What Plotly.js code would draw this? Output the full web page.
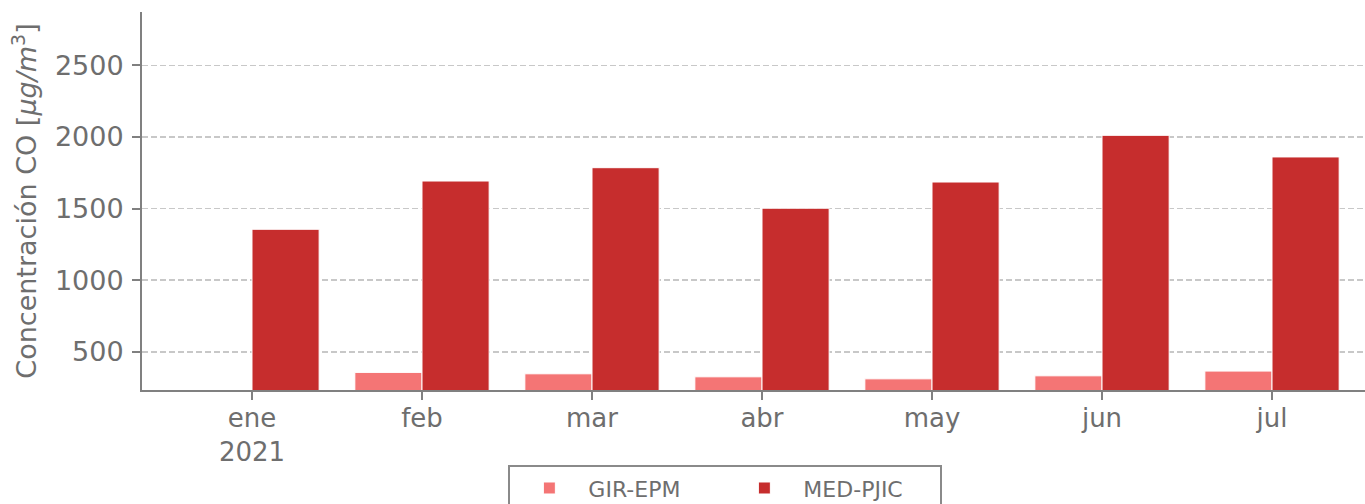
<!DOCTYPE html>
<html>
<head>
<meta charset="utf-8">
<script src="https://cdn.plot.ly/plotly-3.0.1.min.js"></script>
<style>html,body{margin:0;padding:0;background:#fff;}#chart{width:1365px;height:504px;}</style>
</head>
<body>
<div id="chart"></div>
<script>
const months = ["ene", "feb", "mar", "abr", "may", "jun", "jul"];
const tickLabels = ["ene<br>2021", "feb", "mar", "abr", "may", "jun", "jul"];
const girEpm = [null, 356, 346, 325, 311, 332, 365];
const medPjic = [1355, 1692, 1785, 1502, 1685, 2011, 1860];
const seriesNames = ["GIR-EPM", "MED-PJIC"];

const grey = "#6e6e6e";
const traces = [
  {type: "bar", x: months, y: girEpm, name: seriesNames[0],
   marker: {color: "#f47575", line: {color: "#ffffff", width: 1}}},
  {type: "bar", x: months, y: medPjic, name: seriesNames[1],
   marker: {color: "#c62d2d", line: {color: "#ffffff", width: 1}}}
];

const layout = {
  width: 1365, height: 504,
  margin: {l: 142, r: 0, t: 12, b: 114},
  paper_bgcolor: "#ffffff", plot_bgcolor: "#ffffff",
  font: {family: "DejaVu Sans", color: grey, size: 27},
  barmode: "group", bargap: 0.21, bargroupgap: 0,
  showlegend: true,
  legend: {orientation: "h", x: 0.477, xanchor: "center", xref: "paper",
           y: 0.077, yanchor: "top", yref: "container",
           bordercolor: "#8a8a8a", borderwidth: 2, font: {size: 22, color: grey},
           itemwidth: 68, entrywidth: 132, entrywidthmode: "pixels", tracegroupgap: 0},
  xaxis: {type: "category", tickmode: "array", tickvals: months, ticktext: tickLabels,
          range: [-0.647, 6.547], showline: true, linecolor: "#808080", linewidth: 2,
          ticks: "outside", ticklen: 8, tickwidth: 2, tickcolor: "#808080", ticklabelstandoff: -4,
          showgrid: false, zeroline: false, tickfont: {size: 26, color: grey}},
  yaxis: {range: [233, 2872], tickmode: "linear", tick0: 500, dtick: 500,
          showline: true, linecolor: "#808080", linewidth: 2,
          ticks: "outside", ticklen: 8, tickwidth: 2, tickcolor: "#808080", ticklabelstandoff: 3,
          showgrid: true, gridcolor: "#c8c8c8", griddash: "6px,3px", gridwidth: 1.5,
          zeroline: false, tickfont: {size: 27, color: grey},
          title: {text: "Concentración CO [<i>μg/m</i><sup>3</sup>]", font: {size: 27, color: grey}, standoff: 10}}
};

Plotly.newPlot("chart", traces, layout, {displayModeBar: false, staticPlot: true});
</script>
</body>
</html>
